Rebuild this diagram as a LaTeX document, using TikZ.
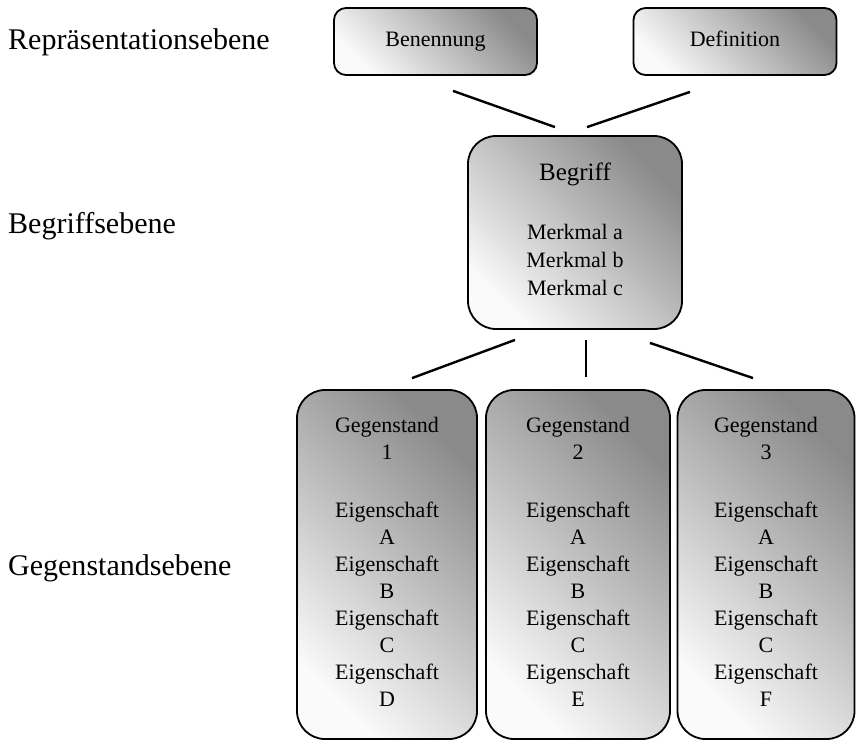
\documentclass[tikz,border=0pt]{standalone}
\usepackage{fontspec}
\setmainfont{Liberation Serif}
\usetikzlibrary{calc}
\definecolor{dk}{HTML}{8A8A8A}
\definecolor{lt}{HTML}{FAFAFA}
\begin{document}
\begin{tikzpicture}[x=1pt,y=-1pt,
  shbox/.style={draw=black, line width=1.8pt, top color=dk, bottom color=lt, shading angle=-45,
    align=center, inner sep=0pt},
  topbox/.style={shbox, rounded corners=12pt, minimum width=203pt, minimum height=67pt,
    text height=15pt, text depth=5pt, font=\fontsize{22}{27}\selectfont},
  midbox/.style={shbox, rounded corners=28pt, minimum width=214pt, minimum height=193pt,
    text depth=6pt, font=\fontsize{22}{28}\selectfont},
  lowbox/.style={shbox, rounded corners=28pt, minimum width=180pt, minimum height=349pt,
    text depth=6pt, font=\fontsize{22}{27}\selectfont},
  level/.style={anchor=base west, inner sep=0pt, font=\fontsize{30}{36}\selectfont},
  conn/.style={line width=2.4pt}]
\useasboundingbox (0,0) rectangle (858,741);

\node[level] (l1) at (8,50) {Repräsentationsebene};
\node[level] (l2) at (8,233) {Begriffsebene};
\node[level] (l3) at (8,575) {Gegenstandsebene};

\node[topbox] (ben) at (435.5,41.5) {Benennung};
\node[topbox] (def) at (735,41.5) {Definition};

\node[midbox] (beg) at (575,232.5) {{\fontsize{25}{28}\selectfont Begriff}\\[31pt]Merkmal a\\Merkmal b\\Merkmal c};

\node[lowbox] (g1) at (387,564.5) {Gegenstand\\1\\[31pt]Eigenschaft\\A\\Eigenschaft\\B\\Eigenschaft\\C\\Eigenschaft\\D};
\node[lowbox, minimum width=184pt] (g2) at (578,564.5) {Gegenstand\\2\\[31pt]Eigenschaft\\A\\Eigenschaft\\B\\Eigenschaft\\C\\Eigenschaft\\E};
\node[lowbox, minimum width=177pt] (g3) at (766,564.5) {Gegenstand\\3\\[31pt]Eigenschaft\\A\\Eigenschaft\\B\\Eigenschaft\\C\\Eigenschaft\\F};

\coordinate (c1a) at ($(ben.south)+(17.5,15)$);
\coordinate (c1b) at ($(beg.north)+(-20,-8)$);
\coordinate (c2a) at ($(def.south)+(-45,16)$);
\coordinate (c2b) at ($(beg.north)+(12,-8)$);
\coordinate (c3a) at ($(beg.south)+(-60,10)$);
\coordinate (c3b) at ($(g1.north)+(25,-11)$);
\coordinate (c4a) at ($(beg.south)+(11,10)$);
\coordinate (c4b) at ($(g2.north)+(8,-12)$);
\coordinate (c5a) at ($(beg.south)+(75,13)$);
\coordinate (c5b) at ($(g3.north)+(-13,-11)$);

\draw[conn] (c1a) -- (c1b);
\draw[conn] (c2a) -- (c2b);
\draw[conn] (c3a) -- (c3b);
\draw[conn] (c4a) -- (c4b);
\draw[conn] (c5a) -- (c5b);
\end{tikzpicture}
\end{document}
